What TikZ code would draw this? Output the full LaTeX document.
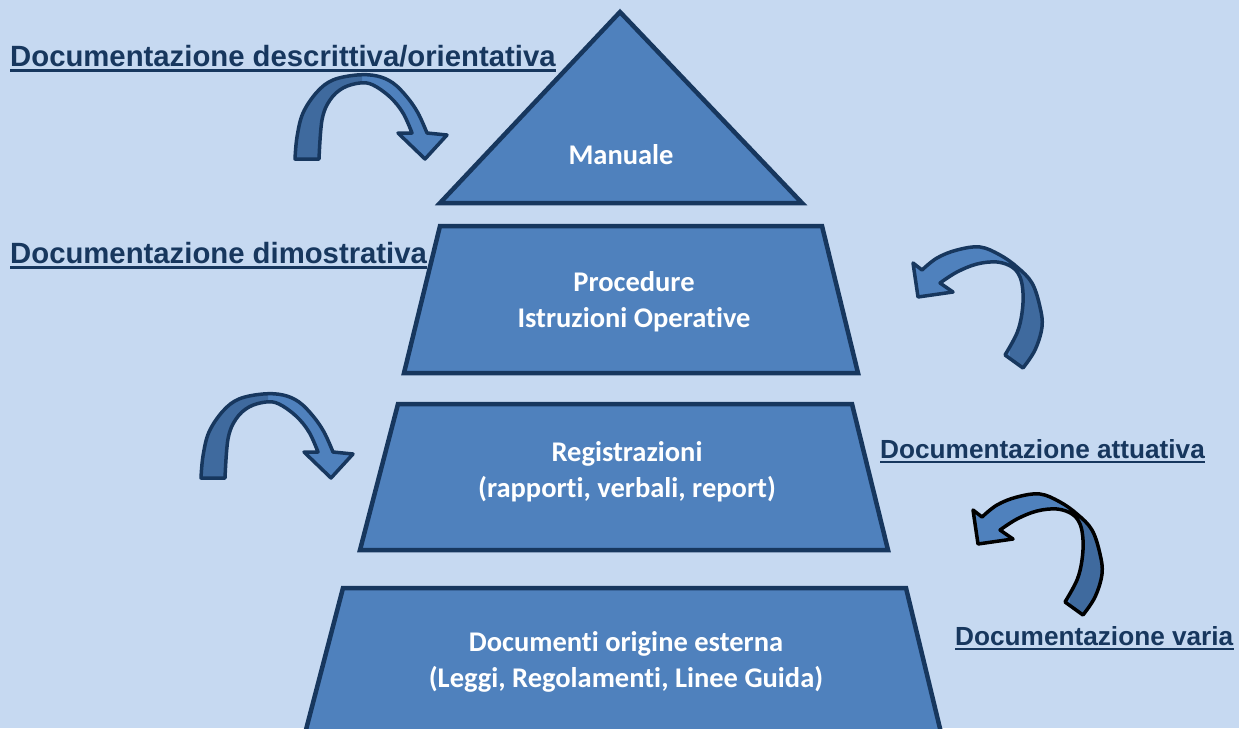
\documentclass[tikz,border=0pt]{standalone}
\usepackage{fontspec}
\setmainfont{Carlito}[Ligatures=CommonOff]
\newfontfamily\labelfont{Liberation Sans}
\definecolor{bgblue}{HTML}{C6D9F1}
\definecolor{midblue}{HTML}{4F81BD}
\definecolor{deepblue}{HTML}{3F6A9E}
\definecolor{navy}{HTML}{17375E}
% outlines of the two bent block arrows, origin at the outer end of the tail
\newcommand\bendrpath{plot[smooth,tension=0.6] coordinates {(0,0) (2,-22) (8,-46) (22,-67) (38,-79) (62,-84) (82,-83) (98,-76) (112,-62) (123,-46) (132,-26)}
  -- (152,-24) -- (130,0) -- (103,-26)
  --plot[smooth,tension=0.6] coordinates {(117,-26) (108,-46) (95,-62) (78,-74) (65,-76) (48,-71) (35,-59) (27,-39) (24,0)} -- cycle}
\newcommand\bendlpath{plot[smooth,tension=0.6] coordinates {(0,0) (12,-18) (19,-41) (17,-61) (9,-85) (-6,-101) (-23,-113) (-43,-121) (-66,-118) (-86,-110) (-101,-98)}
  -- (-110,-105) -- (-105,-71) -- (-70,-76)
  --plot[smooth,tension=0.6] coordinates {(-83,-85) (-66,-96) (-46,-104) (-26,-106) (-11,-101) (-3,-91) (0,-75) (-1,-55) (-6,-35) (-18,-13)} -- cycle}
\tikzset{
  level/.style = {draw=navy, fill=midblue, line width=4.5pt},
  leveltext/.style = {text=white, inner sep=0pt, align=center, font=\bfseries\fontsize{28.5}{36}\selectfont},
  doclabel/.style = {anchor=base west, inner sep=0pt, text=navy, font=\labelfont\bfseries\fontsize{29.3}{34}\selectfont},
  smalllabel/.style = {doclabel, font=\labelfont\bfseries\fontsize{26.2}{30}\selectfont},
  uline/.style = {draw=navy, line width=3pt},
  bendline/.style = {line width=3.5pt, line join=round},
  pics/bendright/.style = {code={
    \fill[midblue] \bendrpath;
    \begin{scope}
      \clip (-10,-100) rectangle (67,10);
      \fill[deepblue] \bendrpath;
    \end{scope}
    \draw[bendline, draw=#1] \bendrpath;
  }},
  pics/bendright/.default = navy,
  pics/bendleft/.style = {code={
    \fill[midblue] \bendlpath;
    \begin{scope}
      \clip (-13,-130) rectangle (30,10);
      \fill[deepblue] \bendlpath;
    \end{scope}
    \draw[bendline, draw=#1] \bendlpath;
  }},
  pics/bendleft/.default = navy
}

\begin{document}
\begin{tikzpicture}[x=1pt, y=-1pt]
\useasboundingbox (0,0) rectangle (1239,728);
\clip (0,0) rectangle (1239,728);
\fill[bgblue] (0,0) rectangle (1239,728);

% the four levels
\draw[level] (620,12) -- (802,203) -- (440,203) -- cycle;
\draw[level] (440,226) -- (822,226) -- (858,373) -- (404,373) -- cycle;
\draw[level] (398,404) -- (852,404) -- (888,550) -- (360,550) -- cycle;
\draw[level] (343,588) -- (906,588) -- (944,745) -- (302,745) -- cycle;

\node[leveltext, anchor=base] (manuale) at (621,164) {Manuale};
\node[leveltext] (procedure) at (634,302) {Procedure\\Istruzioni Operative};
\node[leveltext] (registrazioni) at (627,472) {Registrazioni\\(rapporti, verbali, report)};
\node[leveltext] (esterni) at (626,662) {Documenti origine esterna\\(Leggi, Regolamenti, Linee Guida)};

% labels on the sides
\node[doclabel] (descr) at (10,66) {Documentazione descrittiva/orientativa};
\node[doclabel] (dimostr) at (10,263) {Documentazione dimostrativa};
\node[smalllabel] (attuat) at (880,458) {Documentazione attuativa};
\node[smalllabel] (varia) at (955,645) {Documentazione varia};
\foreach \l in {descr,dimostr}
  \draw[uline] ([yshift=-4pt]\l.base west) -- ([yshift=-4pt]\l.base east);
\foreach \l in {attuat,varia}
  \draw[uline, line width=2.5pt] ([yshift=-4pt]\l.base west) -- ([yshift=-4pt]\l.base east);

% bent arrows
\pic at (295,159) {bendright};
\pic at (201,478) {bendright};
\pic at (1023,368) {bendleft};
\pic at (1083,615) {bendleft=black};
\end{tikzpicture}
\end{document}
